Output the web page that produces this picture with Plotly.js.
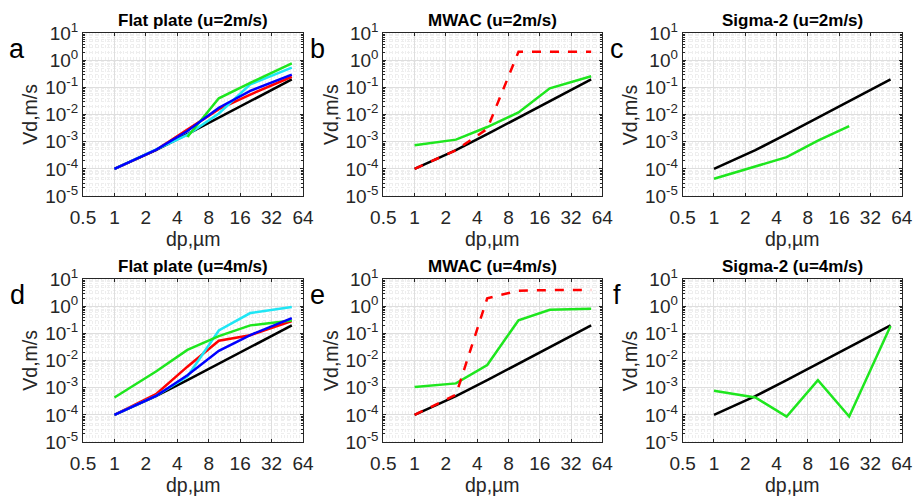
<!DOCTYPE html>
<html>
<head>
<meta charset="utf-8">
<script src="https://cdn.plot.ly/plotly-3.0.1.min.js"></script>
<style>
  html, body { margin: 0; padding: 0; background: #fff; }
  #chart { width: 913px; height: 497px; }
</style>
</head>
<body>
<div id="chart"></div>
<script>
"use strict";

// ── Data ────────────────────────────────────────────────────────────────
const dp = [1, 2.5, 5, 10, 20, 50];

// reference curve (black), same in every panel
const vdRef = [1e-4, 4.9e-4, 1.9e-3, 7.8e-3, 3.3e-2, 0.2];

// a: flat plate, u=2m/s
const aRed = [1e-4, 5e-4, 2.8e-3, 1.6e-2, 5.5e-2, 0.25];
const aCyan = [1e-4, 5e-4, 1.8e-3, 1.1e-2, 0.13, 0.54];
const aGreen = [null, null, 1.5e-3, 4e-2, 0.15, 0.78];
const aBlue = [1e-4, 5e-4, 2.5e-3, 1.8e-2, 7.5e-2, 0.3];

// b: MWAC, u=2m/s
const bGreen = [7.5e-4, 1.2e-3, 3.5e-3, 1.2e-2, 9.4e-2, 0.26];
const bRed = [1e-4, 4.9e-4, 3e-3, 2.1, 2.1, 2.1];

// c: Sigma-2, u=2m/s
const cGreen = [4.3e-5, 1.2e-4, 2.7e-4, 1.1e-3, 3.8e-3, null];

// d: flat plate, u=4m/s
const dRed = [1e-4, 5.8e-4, 6e-3, 5.4e-2, 8.7e-2, 0.29];
const dCyan = [1e-4, 5e-4, 2.6e-3, 0.13, 0.57, 0.95];
const dGreen = [4.4e-4, 4e-3, 2.5e-2, 8e-2, 0.2, 0.3];
const dBlue = [1e-4, 5e-4, 2.9e-3, 2.3e-2, 8.8e-2, 0.37];

// e: MWAC, u=4m/s
const eGreen = [1.06e-3, 1.45e-3, 6.9e-3, 0.31, 0.75, 0.82];
const eRed = [1e-4, 5.5e-4, 2.0, 3.8, 4.0, 4.0];

// f: Sigma-2, u=4m/s
const fGreen = [7.7e-4, 4.4e-4, 8.7e-5, 1.9e-3, 8.7e-5, 0.19];

const xTicks = [0.5, 1, 2, 4, 8, 16, 32, 64];
const xTickText = ["0.5", "1", "2", "4", "8", "16", "32", "64"];
const yTicks = [1e-5, 1e-4, 1e-3, 1e-2, 1e-1, 1, 10];
const yTickText = ["10<sup>-5</sup>", "10<sup>-4</sup>", "10<sup>-3</sup>",
  "10<sup>-2</sup>", "10<sup>-1</sup>", "10<sup>0</sup>", "10<sup>1</sup>"];

const panelTitles = ["Flat plate (u=2m/s)", "MWAC (u=2m/s)", "Sigma-2 (u=2m/s)",
  "Flat plate (u=4m/s)", "MWAC (u=4m/s)", "Sigma-2 (u=4m/s)"];
const panelLetters = ["a", "b", "c", "d", "e", "f"];

// ── Styling ─────────────────────────────────────────────────────────────
const W = 913, H = 497;
const FONT = "'Liberation Sans', Arial, Helvetica, sans-serif";
const C = {
  black: "#000000", red: "#ff0000", blue: "#0000ff",
  cyan: "#1fe6f5", green: "#1ee61e", axis: "#262626",
};

// plot boxes in pixels [left, right] / [top, bottom]
const COLS = [[83, 303], [383.3, 602.3], [682.7, 901.7]];
const ROWS = [[33.3, 196], [279.3, 442]];

const px = (x) => x / W;
const py = (y) => 1 - y / H;

// minor grid positions: 10 steps per octave on x, 2..9 per decade on y
const xMinor = [];
for (let k = 1; k < 70; k++) if (k % 10) xMinor.push(0.5 * Math.pow(2, k / 10));
const yMinor = [];
for (let e = -5; e < 1; e++) for (let m = 2; m < 10; m++) yMinor.push(m * Math.pow(10, e));

function xAxis(col, anchor) {
  return {
    type: "log",
    domain: [px(COLS[col][0]), px(COLS[col][1])],
    anchor: anchor,
    range: [Math.log10(0.5), Math.log10(64)],
    tickmode: "array",
    tickvals: xTicks,
    ticktext: xTickText,
    ticks: "inside",
    ticklen: 3,
    tickcolor: C.axis,
    ticklabelstandoff: 4,
    showline: true,
    linecolor: C.axis,
    linewidth: 1,
    mirror: "ticks",
    showgrid: true,
    gridcolor: "#dedede",
    gridwidth: 1,
    minor: {
      tickmode: "array",
      tickvals: xMinor,
      showgrid: true,
      gridcolor: "#eeeeee",
      griddash: "dot",
      gridwidth: 1,
      ticks: "",
    },
    tickfont: { family: FONT, size: 19, color: C.axis },
    zeroline: false,
    fixedrange: true,
  };
}

function yAxis(row, anchor) {
  return {
    type: "log",
    domain: [py(ROWS[row][1]), py(ROWS[row][0])],
    anchor: anchor,
    range: [-5, 1],
    tickmode: "array",
    tickvals: yTicks,
    ticktext: yTickText,
    ticks: "inside",
    ticklen: 3,
    tickcolor: C.axis,
    showline: true,
    linecolor: C.axis,
    linewidth: 1,
    mirror: "ticks",
    showgrid: true,
    gridcolor: "#dedede",
    gridwidth: 1,
    minor: {
      tickmode: "array",
      tickvals: yMinor,
      showgrid: true,
      gridcolor: "#eeeeee",
      griddash: "dot",
      gridwidth: 1,
      ticks: "inside",
      ticklen: 2,
      tickcolor: C.axis,
    },
    tickfont: { family: FONT, size: 19, color: C.axis },
    zeroline: false,
    fixedrange: true,
  };
}

function line(panel, y, color, dash) {
  const n = panel === 0 ? "" : String(panel + 1);
  return {
    type: "scatter",
    mode: "lines",
    x: dp,
    y: y,
    xaxis: "x" + n,
    yaxis: "y" + n,
    connectgaps: false,
    line: { color: color, width: 2.5, dash: dash || "solid" },
    hoverinfo: "skip",
  };
}

// ── Traces ──────────────────────────────────────────────────────────────
const traces = [
  line(0, vdRef, C.black), line(0, aRed, C.red), line(0, aCyan, C.cyan),
  line(0, aGreen, C.green), line(0, aBlue, C.blue),

  line(1, vdRef, C.black), line(1, bGreen, C.green), line(1, bRed, C.red, "dash"),

  line(2, vdRef, C.black), line(2, cGreen, C.green),

  line(3, vdRef, C.black), line(3, dRed, C.red), line(3, dCyan, C.cyan),
  line(3, dGreen, C.green), line(3, dBlue, C.blue),

  line(4, vdRef, C.black), line(4, eGreen, C.green), line(4, eRed, C.red, "dash"),

  line(5, vdRef, C.black), line(5, fGreen, C.green),
];

// ── Layout ──────────────────────────────────────────────────────────────
const layout = {
  width: W,
  height: H,
  margin: { l: 0, r: 0, t: 0, b: 0 },
  paper_bgcolor: "#ffffff",
  plot_bgcolor: "#ffffff",
  showlegend: false,
  font: { family: FONT, color: C.axis },
  annotations: [],
};

for (let i = 0; i < 6; i++) {
  const r = Math.floor(i / 3), c = i % 3;
  const n = i === 0 ? "" : String(i + 1);
  layout["xaxis" + n] = xAxis(c, "y" + n);
  layout["yaxis" + n] = yAxis(r, "x" + n);

  const cx = (COLS[c][0] + COLS[c][1]) / 2;
  const cy = (ROWS[r][0] + ROWS[r][1]) / 2;

  layout.annotations.push(
    {
      text: panelTitles[i], xref: "paper", yref: "paper",
      x: px(cx), y: py(ROWS[r][0] - 13), xanchor: "center", yanchor: "middle",
      showarrow: false,
      font: { family: FONT, size: 17, weight: "bold", color: "#000" },
    },
    {
      text: "dp,µm", xref: "paper", yref: "paper",
      x: px(cx), y: py(ROWS[r][1] + 43), xanchor: "center", yanchor: "middle",
      showarrow: false,
      font: { family: FONT, size: 19.5, color: C.axis },
    },
    {
      text: "Vd,m/s", xref: "paper", yref: "paper", textangle: -90,
      x: px(COLS[c][0] - 53), y: py(cy), xanchor: "center", yanchor: "middle",
      showarrow: false,
      font: { family: FONT, size: 19.5, color: C.axis },
    },
    {
      text: panelLetters[i], xref: "paper", yref: "paper",
      x: px(COLS[c][0] - 66), y: py(ROWS[r][0] + 16), xanchor: "center", yanchor: "middle",
      showarrow: false,
      font: { family: FONT, size: 27, color: "#000" },
    },
  );
}

Plotly.newPlot("chart", traces, layout, { displayModeBar: false, staticPlot: true });
</script>
</body>
</html>
